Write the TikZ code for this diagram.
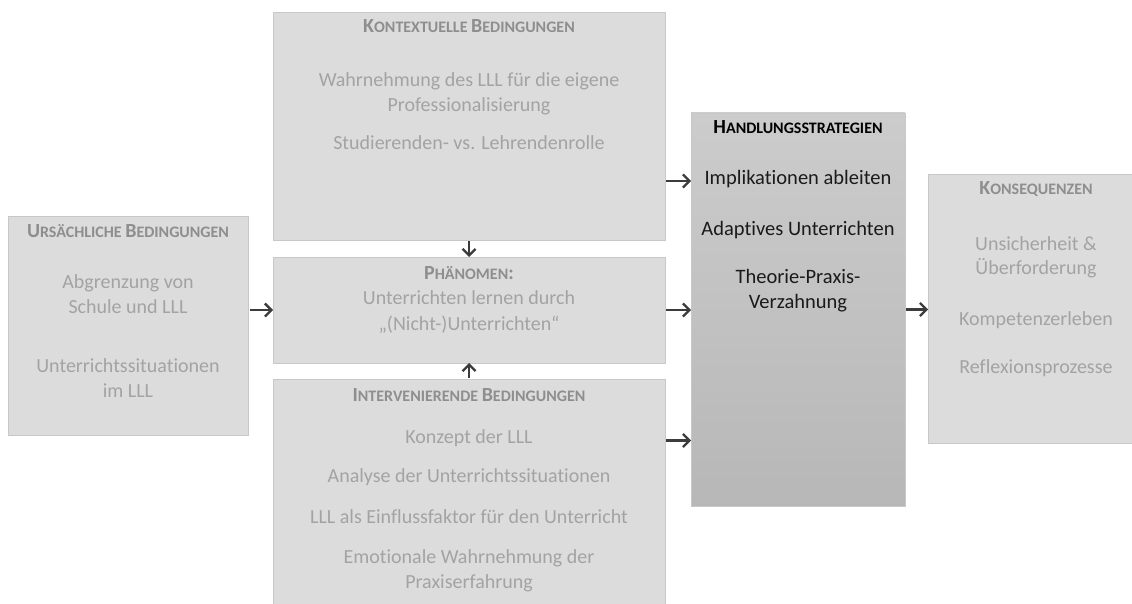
\documentclass[tikz,border=0pt]{standalone}
\usepackage{fontspec}
\setmainfont{Carlito}[Ligatures=NoCommon]
\usetikzlibrary{arrows.meta,calc}
\definecolor{boxfill}{HTML}{DCDCDC}
\definecolor{boxline}{HTML}{C8C8C8}
\definecolor{txtgray}{HTML}{A3A3A3}
\definecolor{hdgray}{HTML}{8E8E8E}
\definecolor{arrgray}{HTML}{3C3C3C}
\definecolor{hstop}{HTML}{CCCCCC}
\definecolor{hsbot}{HTML}{B7B7B7}
\definecolor{hstext}{HTML}{1A1A1A}
\newcommand\hsc[2]{{\fontsize{20}{24}\selectfont #1}{\fontsize{16}{19}\selectfont #2}}
\begin{document}
\begin{tikzpicture}[x=1pt,y=-1pt,
  box/.style={draw=boxline, fill=boxfill, line width=0.8pt, inner sep=0pt, outer sep=0pt, anchor=north west},
  tx/.style={anchor=base, inner sep=0pt, font=\fontsize{20}{24}\selectfont, text=txtgray},
  hd/.style={anchor=base, inner sep=0pt, font=\bfseries, text=hdgray},
  dtx/.style={tx, text=hstext, font=\fontsize{20.5}{24}\selectfont},
  dhd/.style={hd, text=black},
  arr/.style={draw=arrgray, line width=2.3pt, -{Straight Barb[length=6.5pt,width=13pt]}}
]
\useasboundingbox (0,0) rectangle (1132,604);
% boxes
\node[box, minimum width=392pt, minimum height=228pt] (ks) at (273,12) {};
\node[box, minimum width=240pt, minimum height=219pt] (us) at (8,216) {};
\node[box, minimum width=392pt, minimum height=106pt] (ph) at (273,257) {};
\node[box, minimum width=392pt, minimum height=231pt] (iv) at (273,379) {};
\node[box, draw=boxline, top color=hstop, bottom color=hsbot, minimum width=214pt, minimum height=393pt] (hs) at (691,113) {};
\node[box, minimum width=216pt, minimum height=269pt] (kq) at (928,174) {};
% Kontextuelle Bedingungen
\node[hd] (ksh) at (469,33) {\hsc{K}{ONTEXTUELLE }\hsc{B}{EDINGUNGEN}};
\node[tx] (ks1) at (469,87) {Wahrnehmung des LLL für die eigene};
\node[tx] (ks2) at (469,112) {Professionalisierung};
\node[tx] (ks3) at (469,150) {Studierenden- vs. Lehrendenrolle};
% Ursächliche Bedingungen
\node[hd] (ush) at (128,237) {\hsc{U}{RSÄCHLICHE }\hsc{B}{EDINGUNGEN}};
\node[tx] (us1) at (128,288) {Abgrenzung von};
\node[tx] (us2) at (128,313) {Schule und LLL};
\node[tx] (us3) at (128,372) {Unterrichtssituationen};
\node[tx] (us4) at (128,397) {im LLL};
% Phänomen
\node[hd] (phh) at (469,279) {\hsc{P}{HÄNOMEN}\hsc{:}{}};
\node[tx] (ph1) at (469,304) {Unterrichten lernen durch};
\node[tx] (ph2) at (469,330) {„(Nicht-)Unterrichten“};
% Intervenierende Bedingungen
\node[hd] (ivh) at (469,401) {\hsc{I}{NTERVENIERENDE }\hsc{B}{EDINGUNGEN}};
\node[tx] (iv1) at (469,443) {Konzept der LLL};
\node[tx] (iv2) at (469,482) {Analyse der Unterrichtssituationen};
\node[tx] (iv3) at (469,523) {LLL als Einflussfaktor für den Unterricht};
\node[tx] (iv4) at (469,563) {Emotionale Wahrnehmung der};
\node[tx] (iv5) at (469,588) {Praxiserfahrung};
% Handlungsstrategien
\node[dhd] (hsh) at (798,134) {\hsc{H}{ANDLUNGSSTRATEGIEN}};
\node[dtx] (hs1) at (798,185) {Implikationen ableiten};
\node[dtx] (hs2) at (798,235) {Adaptives Unterrichten};
\node[dtx] (hs3) at (798,283) {Theorie-Praxis-};
\node[dtx] (hs4) at (798,308) {Verzahnung};
% Konsequenzen
\node[hd] (kqh) at (1036,195) {\hsc{K}{ONSEQUENZEN}};
\node[tx] (kq1) at (1036,250) {Unsicherheit \&};
\node[tx] (kq2) at (1036,274) {Überforderung};
\node[tx] (kq3) at (1036,325) {Kompetenzerleben};
\node[tx] (kq4) at (1036,373) {Reflexionsprozesse};
% connectors
\coordinate (k1) at ([yshift=-55pt]ks.east);
\coordinate (i1) at ([yshift=54pt]iv.east);
\draw[arr, shorten <=2pt] (us.east |- ph.west) -- (ph.west);
\draw[arr, shorten <=1pt] (ks.south) -- (ph.north);
\draw[arr, shorten <=1pt] (iv.north) -- (ph.south);
\draw[arr, shorten <=1pt] (k1) -- (k1 -| hs.west);
\draw[arr, shorten <=1pt] (ph.east) -- (ph.east -| hs.west);
\draw[arr, shorten <=1pt] (i1) -- (i1 -| hs.west);
\draw[arr, shorten <=1pt] (hs.east) -- (hs.east -| kq.west);
\end{tikzpicture}
\end{document}
